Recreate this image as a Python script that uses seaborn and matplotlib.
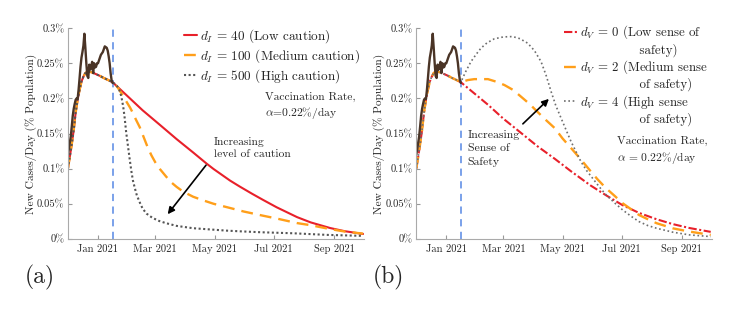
import numpy as np
import pandas as pd
import seaborn as sns
import matplotlib.pyplot as plt
from matplotlib.lines import Line2D

# --- data, days counted from 2020-12-01 ---
start = pd.Timestamp('2020-12-01')
cutoff = pd.Timestamp('2021-01-16')

real_days = list(range(47))
real_vals = [0.120, 0.128, 0.137, 0.146, 0.160, 0.175, 0.185, 0.192, 0.198, 0.200,
             0.199, 0.212, 0.228, 0.245, 0.258, 0.266, 0.275, 0.292, 0.272, 0.250,
             0.232, 0.229, 0.248, 0.241, 0.246, 0.252, 0.236, 0.250, 0.244, 0.245,
             0.250, 0.250, 0.254, 0.258, 0.262, 0.264, 0.266, 0.270, 0.274, 0.273,
             0.272, 0.268, 0.260, 0.250, 0.236, 0.226, 0.222]

pre_days = [0, 2, 4, 6, 8, 10, 12, 14, 16, 18, 20, 22, 25, 29, 33, 37, 41]
pre_vals = [0.100, 0.117, 0.135, 0.155, 0.180, 0.198, 0.212, 0.224, 0.231, 0.236,
            0.238, 0.238, 0.237, 0.2345, 0.232, 0.229, 0.2265]

# panel (a): caution level d_I
a_low_days = [46, 60, 77, 95, 112, 129, 143, 150, 167, 177, 190, 201, 215, 236, 250, 270, 285, 304]
a_low_vals = [0.223, 0.205, 0.183, 0.162, 0.142, 0.123, 0.107, 0.0995, 0.083, 0.0745, 0.064,
              0.0555, 0.045, 0.031, 0.0235, 0.0155, 0.011, 0.007]
a_med_days = [46, 50, 53, 57, 60, 64, 67, 70, 74, 78, 82, 86, 90, 95, 101, 106, 112, 119,
              129, 139, 150, 167, 181, 201, 215, 236, 250, 270, 285, 304]
a_med_vals = [0.223, 0.218, 0.212, 0.203, 0.196, 0.187, 0.179, 0.170, 0.159, 0.145, 0.131,
              0.119, 0.109, 0.099, 0.089, 0.081, 0.074, 0.067, 0.060, 0.055, 0.050, 0.044,
              0.039, 0.033, 0.029, 0.0225, 0.0195, 0.014, 0.0105, 0.0075]
a_high_days = [46, 50, 53, 55, 57, 58.5, 60, 61.8, 63.5, 65.3, 67, 69, 71, 74, 77, 81, 87,
               94, 101, 112, 129, 146, 163, 177, 198, 232, 267, 304]
a_high_vals = [0.223, 0.219, 0.212, 0.203, 0.188, 0.172, 0.152, 0.133, 0.115, 0.097, 0.083,
               0.072, 0.062, 0.052, 0.043, 0.036, 0.030, 0.0255, 0.0224, 0.0185, 0.0152,
               0.0135, 0.0118, 0.0108, 0.0095, 0.008, 0.0057, 0.0043]

# panel (b): sense of safety d_V
b_low_days = [46, 60, 74, 90, 108, 125, 143, 160, 180, 196, 213, 230, 248, 265, 282, 304]
b_low_vals = [0.223, 0.207, 0.191, 0.171, 0.151, 0.132, 0.114, 0.096, 0.076, 0.062, 0.048,
              0.037, 0.028, 0.021, 0.0155, 0.010]
b_med_days = [46, 53, 60, 74, 82, 91, 100, 108, 117, 125, 134, 143, 151, 160, 170, 179, 187,
              196, 205, 213, 222, 230, 239, 248, 265, 282, 304]
b_med_vals = [0.223, 0.226, 0.2274, 0.2274, 0.224, 0.219, 0.212, 0.2026, 0.192, 0.181, 0.169,
              0.1576, 0.143, 0.129, 0.113, 0.098, 0.085, 0.072, 0.061, 0.0508, 0.042, 0.034,
              0.028, 0.0224, 0.015, 0.0104, 0.0057]
b_high_days = [46, 51, 56.5, 62, 66.8, 73, 80.6, 90, 99.5, 107, 115, 122, 128.8, 134, 139.2,
               144, 149.5, 155, 159.8, 165, 170, 176, 182, 189, 196, 205, 213, 222, 230, 239,
               248, 265, 282, 304]
b_high_vals = [0.223, 0.238, 0.2524, 0.263, 0.2715, 0.279, 0.2848, 0.2875, 0.288, 0.285,
               0.2786, 0.268, 0.2524, 0.233, 0.2097, 0.19, 0.1719, 0.154, 0.1385, 0.124,
               0.11, 0.097, 0.0864, 0.074, 0.0626, 0.051, 0.0413, 0.032, 0.0246, 0.019,
               0.0152, 0.0095, 0.0057, 0.0033]

yticks = [0, 0.05, 0.1, 0.15, 0.2, 0.25, 0.3]
ytick_labels = ['0%', '0.05%', '0.1%', '0.15%', '0.2%', '0.25%', '0.3%']
xticks = ['2021-01-01', '2021-03-01', '2021-05-01', '2021-07-01', '2021-09-01']
xtick_labels = ['Jan 2021', 'Mar 2021', 'May 2021', 'Jul 2021', 'Sep 2021']

a_labels = [r'$d_I$ = 40 (Low caution)', r'$d_I$ = 100 (Medium caution)',
            r'$d_I$ = 500 (High caution)']
b_labels = [r'$d_V$ = 0 (Low sense of', r'$d_V$ = 2 (Medium sense', r'$d_V$ = 4 (High sense']
b_labels2 = ['safety)', 'of safety)', 'of safety)']

red, orange, grey, brown, blue = '#e8202a', '#ff9f1a', '#555555', '#4a3426', '#6f9ae8'

sns.set_style('ticks')
plt.rcParams['font.family'] = ['cmr10', 'DejaVu Serif']
plt.rcParams['mathtext.fontset'] = 'cm'
plt.rcParams['axes.formatter.use_mathtext'] = True
plt.rcParams['axes.unicode_minus'] = False


def to_dates(days):
    return start + pd.to_timedelta(np.array(days, dtype=float), unit='D')


def draw_panel(ax, curves, labels, styles, colors, widths):
    # model fit (same before the cutoff) for the three scenarios
    for (days, vals), color, ls, lw, label in zip(curves, colors, styles, widths, labels):
        sns.lineplot(x=to_dates(pre_days + days), y=pre_vals + vals, ax=ax, color=color,
                     linestyle=ls, linewidth=lw, label=label)
    # reported cases
    sns.lineplot(x=to_dates(real_days), y=real_vals, ax=ax, color=brown, linewidth=1.7)
    ax.axvline(cutoff, color=blue, linestyle=(0, (4, 3)), linewidth=1.3, zorder=0)

    ax.set_xlim(start, pd.Timestamp('2021-10-02'))
    ax.set_ylim(0, 0.3)
    ax.set_yticks(yticks)
    ax.set_yticklabels(ytick_labels)
    ax.set_xticks(pd.to_datetime(xticks))
    ax.set_xticklabels(xtick_labels)
    ax.tick_params(direction='in', length=3, labelsize=7.6, color='#999999', pad=2.5)
    ax.tick_params(axis='x', pad=4)
    for s in ['top', 'right']:
        ax.spines[s].set_visible(False)
    for s in ['left', 'bottom']:
        ax.spines[s].set_color('#aaaaaa')
        ax.spines[s].set_linewidth(0.8)
    ax.set_ylabel('New Cases/Day (% Population)', fontsize=8.2)
    ax.yaxis.set_label_coords(-0.105, 0.5)
    ax.set_xlabel('')
    ax.patch.set_visible(False)


fig = plt.figure(figsize=(7.46, 3.16), dpi=100)
ax1 = fig.add_axes([0.091, 0.244, 0.397, 0.667])
ax2 = fig.add_axes([0.558, 0.244, 0.396, 0.667])

draw_panel(ax1, [(a_low_days, a_low_vals), (a_med_days, a_med_vals),
                 (a_high_days, a_high_vals)], a_labels,
           ['-', (0, (5, 3)), (0, (1, 1.2))], [red, orange, grey], [1.5, 1.7, 1.5])
draw_panel(ax2, [(b_low_days, b_low_vals), (b_med_days, b_med_vals),
                 (b_high_days, b_high_vals)], b_labels,
           [(0, (4, 1.2, 1, 1.2)), (0, (5, 3)), (0, (1, 1.6))],
           [red, orange, '#6e6e6e'], [1.5, 1.7, 1.2])

ax1.legend(loc='upper left', bbox_to_anchor=(0.36, 1.05), frameon=False, fontsize=9.5,
           handlelength=1.0, handletextpad=0.2, labelspacing=0.18, borderpad=0.2)

# panel (b) legend: two-line labels, second line indented under the parenthesis
hs = ax2.get_legend_handles_labels()[0]
blank = Line2D([], [], color='none')
leg_h, leg_l = [], []
for h, l1, l2 in zip(hs, b_labels, b_labels2):
    leg_h += [h, blank]
    leg_l += [l1, '              ' + l2]
ax2.legend(leg_h, leg_l, loc='upper left', bbox_to_anchor=(0.47, 1.065), frameon=False,
           fontsize=9.3, handlelength=1.0, handletextpad=0.2, labelspacing=0.13,
           borderpad=0.2)

ax1.text(pd.Timestamp('2021-06-22'), 0.21, 'Vaccination Rate,\n' + r'$\alpha$=0.22%/day',
         fontsize=8.3, va='top', linespacing=1.35)
ax1.text(pd.Timestamp('2021-04-30'), 0.145, 'Increasing\nlevel of caution',
         fontsize=8.3, va='top', linespacing=1.35)
ax1.annotate('', xy=(to_dates([101])[0], 0.032), xytext=(to_dates([144])[0], 0.108),
             arrowprops=dict(arrowstyle='-|>', color='black', lw=1.2, mutation_scale=10))

ax2.text(pd.Timestamp('2021-06-26'), 0.147, 'Vaccination Rate,\n' + r'$\alpha$ = 0.22%/day',
         fontsize=8.3, va='top', linespacing=1.35)
ax2.text(pd.Timestamp('2021-01-23'), 0.155, 'Increasing\nSense of\nSafety',
         fontsize=8.5, va='top', linespacing=1.5)
ax2.annotate('', xy=(to_dates([139])[0], 0.202), xytext=(to_dates([108])[0], 0.161),
             arrowprops=dict(arrowstyle='-|>', color='black', lw=1.2, mutation_scale=10))

fig.text(0.033, 0.123, '(a)', fontsize=17, va='center')
fig.text(0.5, 0.123, '(b)', fontsize=17, va='center')

fig.savefig('out.png', dpi=100)
